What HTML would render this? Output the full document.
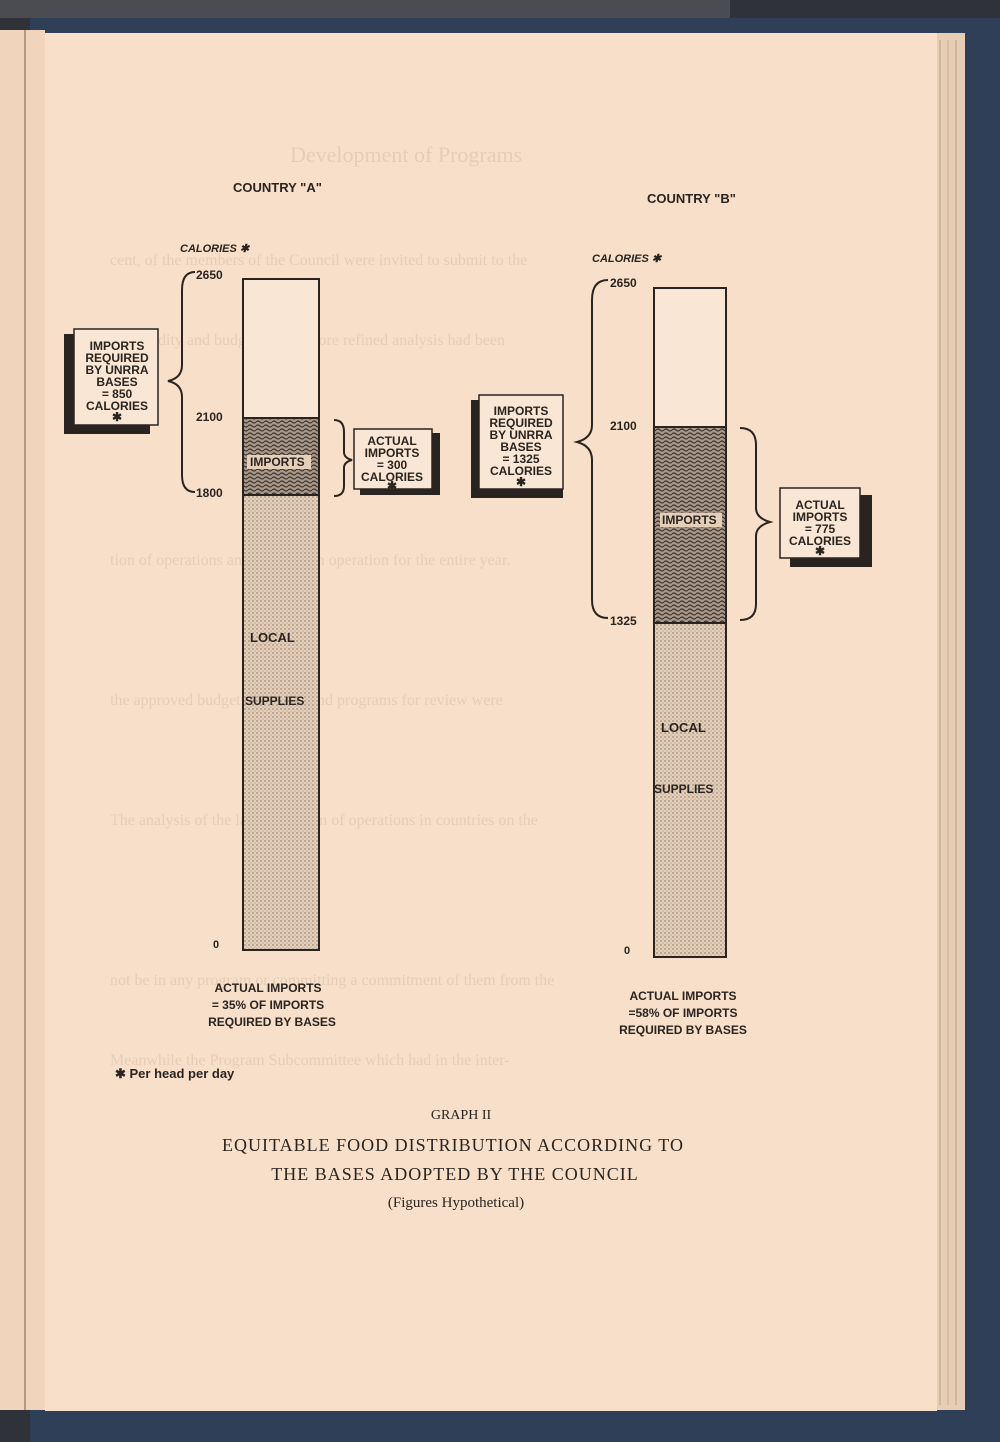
<!DOCTYPE html>
<html><head><meta charset="utf-8"><style>
html,body{margin:0;padding:0;width:1000px;height:1442px;overflow:hidden;background:#2d3036}
svg{display:block}
.s{font-family:"Liberation Sans",sans-serif;font-weight:bold;fill:#2a2420}
.r{font-family:"Liberation Serif",serif;fill:#2a2420}
.g{font-family:"Liberation Serif",serif;fill:#e7cdb7}
</style></head><body>
<svg width="1000" height="1442" viewBox="0 0 1000 1442" xmlns="http://www.w3.org/2000/svg">
<defs>
<pattern id="dots" width="4" height="4" patternUnits="userSpaceOnUse">
<rect width="4" height="4" fill="#e6cfb9"/><circle cx="1" cy="1" r="0.7" fill="#7a6a5e"/><circle cx="3" cy="3" r="0.5" fill="#8a7a6e"/>
</pattern>
<pattern id="worm" width="8" height="8" patternUnits="userSpaceOnUse">
<rect width="8" height="8" fill="#a8988a"/><path d="M0 2 Q2 0 4 2 T8 2 M0 6 Q2 4 4 6 T8 6" stroke="#3a302a" stroke-width="1.2" fill="none"/>
</pattern>
</defs>
<rect x="0" y="0" width="1000" height="1442" fill="#2f3238"/>
<rect x="0" y="0" width="730" height="18" fill="#4a4c52"/>
<rect x="30" y="18" width="970" height="1424" fill="#2f3f58"/>
<rect x="0" y="30" width="45" height="1380" fill="#f0d4bb"/>
<rect x="24" y="30" width="2" height="1380" fill="#b89a7c"/>
<rect x="935" y="33" width="30" height="1377" fill="#e6cdb4"/>
<line x1="940" y1="40" x2="940" y2="1405" stroke="#b8a08a"/>
<line x1="948" y1="40" x2="948" y2="1405" stroke="#c8b09a"/>
<line x1="956" y1="40" x2="956" y2="1405" stroke="#b8a08a"/>
<rect x="45" y="33" width="892" height="1378" fill="#f7dfc9"/>

<!-- show-through ghost text -->
<text x="290" y="162" class="g" font-size="22">Development of Programs</text>
<g class="g" font-size="16">
<text x="110" y="265">cent, of the members of the Council were invited to submit to the</text>
<text x="110" y="345">commodity and budget after a more refined analysis had been</text>
<text x="110" y="565">tion of operations and program in operation for the entire year.</text>
<text x="110" y="705">the approved budget proposals and programs for review were</text>
<text x="110" y="825">The analysis of the latest program of operations in countries on the</text>
<text x="110" y="985">not be in any program or committing a commitment of them from the</text>
<text x="110" y="1065">Meanwhile the Program Subcommittee which had in the inter-</text>
</g>

<text x="233" y="192" class="s" font-size="13">COUNTRY "A"</text>
<text x="647" y="203" class="s" font-size="13">COUNTRY "B"</text>
<text x="180" y="252" class="s" font-size="11" font-style="italic">CALORIES ✱</text>
<text x="592" y="262" class="s" font-size="11" font-style="italic">CALORIES ✱</text>

<rect x="243" y="279" width="76" height="139" fill="#f9e6d4" stroke="#2a2420" stroke-width="2"/>
<rect x="243" y="418" width="76" height="77" fill="url(#worm)" stroke="#2a2420" stroke-width="2"/>
<rect x="243" y="495" width="76" height="455" fill="url(#dots)" stroke="#2a2420" stroke-width="2"/>
<rect x="247" y="455" width="64" height="14" fill="#e6cfb9"/>
<text x="250" y="466" class="s" font-size="12">IMPORTS</text>
<text x="250" y="642" class="s" font-size="13">LOCAL</text>
<text x="245" y="705" class="s" font-size="12">SUPPLIES</text>
<text x="196" y="279" class="s" font-size="12">2650</text>
<text x="196" y="421" class="s" font-size="12">2100</text>
<text x="196" y="497" class="s" font-size="12">1800</text>
<text x="213" y="948" class="s" font-size="11">0</text>
<path d="M195 272 Q182 272 182 290 L182 365 Q182 378 168 381 Q182 384 182 397 L182 475 Q182 492 195 492" stroke="#2a2420" stroke-width="2" fill="none"/>
<path d="M334 420 Q344 420 344 432 L344 452 Q344 458 352 460 Q344 462 344 468 L344 486 Q344 496 334 496" stroke="#2a2420" stroke-width="2" fill="none"/>

<rect x="64" y="334" width="12" height="100" fill="#2a2420"/>
<rect x="64" y="424" width="86" height="10" fill="#2a2420"/>
<rect x="74" y="329" width="84" height="96" fill="#f9e6d4" stroke="#2a2420" stroke-width="1.5"/>
<g class="s" font-size="12" text-anchor="middle">
<text x="117" y="350">IMPORTS</text><text x="117" y="362">REQUIRED</text><text x="117" y="374">BY UNRRA</text><text x="117" y="386">BASES</text><text x="117" y="398">= 850</text><text x="117" y="410">CALORIES</text><text x="117" y="421">✱</text>
</g>
<rect x="360" y="433" width="80" height="62" fill="#2a2420"/>
<rect x="354" y="429" width="78" height="60" fill="#f9e6d4" stroke="#2a2420" stroke-width="1.5"/>
<g class="s" font-size="12" text-anchor="middle">
<text x="392" y="445">ACTUAL</text><text x="392" y="457">IMPORTS</text><text x="392" y="469">= 300</text><text x="392" y="481">CALORIES</text><text x="392" y="490">✱</text>
</g>

<rect x="654" y="288" width="72" height="139" fill="#f9e6d4" stroke="#2a2420" stroke-width="2"/>
<rect x="654" y="427" width="72" height="196" fill="url(#worm)" stroke="#2a2420" stroke-width="2"/>
<rect x="654" y="623" width="72" height="334" fill="url(#dots)" stroke="#2a2420" stroke-width="2"/>
<rect x="660" y="513" width="62" height="14" fill="#e6cfb9"/>
<text x="662" y="524" class="s" font-size="12">IMPORTS</text>
<text x="661" y="732" class="s" font-size="13">LOCAL</text>
<text x="654" y="793" class="s" font-size="12">SUPPLIES</text>
<text x="610" y="287" class="s" font-size="12">2650</text>
<text x="610" y="430" class="s" font-size="12">2100</text>
<text x="610" y="625" class="s" font-size="12">1325</text>
<text x="624" y="954" class="s" font-size="11">0</text>
<path d="M608 280 Q592 280 592 300 L592 425 Q592 438 577 442 Q592 446 592 460 L592 600 Q592 618 608 618" stroke="#2a2420" stroke-width="2" fill="none"/>
<path d="M740 428 Q756 428 756 445 L756 508 Q756 518 770 522 Q756 526 756 536 L756 604 Q756 620 740 620" stroke="#2a2420" stroke-width="2" fill="none"/>

<rect x="471" y="400" width="12" height="98" fill="#2a2420"/>
<rect x="471" y="488" width="92" height="10" fill="#2a2420"/>
<rect x="479" y="395" width="84" height="94" fill="#f9e6d4" stroke="#2a2420" stroke-width="1.5"/>
<g class="s" font-size="12" text-anchor="middle">
<text x="521" y="415">IMPORTS</text><text x="521" y="427">REQUIRED</text><text x="521" y="439">BY UNRRA</text><text x="521" y="451">BASES</text><text x="521" y="463">= 1325</text><text x="521" y="475">CALORIES</text><text x="521" y="486">✱</text>
</g>
<rect x="790" y="495" width="82" height="72" fill="#2a2420"/>
<rect x="780" y="488" width="80" height="70" fill="#f9e6d4" stroke="#2a2420" stroke-width="1.5"/>
<g class="s" font-size="12" text-anchor="middle">
<text x="820" y="509">ACTUAL</text><text x="820" y="521">IMPORTS</text><text x="820" y="533">= 775</text><text x="820" y="545">CALORIES</text><text x="820" y="555">✱</text>
</g>

<g class="s" font-size="12" text-anchor="middle">
<text x="268" y="992">ACTUAL IMPORTS</text><text x="268" y="1009">= 35% OF IMPORTS</text><text x="272" y="1026">REQUIRED BY BASES</text>
<text x="683" y="1000">ACTUAL IMPORTS</text><text x="683" y="1017">=58% OF IMPORTS</text><text x="683" y="1034">REQUIRED BY BASES</text>
</g>
<text x="115" y="1078" class="s" font-size="13">✱ Per head per day</text>

<text x="461" y="1119" class="r" font-size="14" text-anchor="middle">GRAPH II</text>
<text x="453" y="1151" class="r" font-size="18" text-anchor="middle" letter-spacing="1">EQUITABLE FOOD DISTRIBUTION ACCORDING TO</text>
<text x="455" y="1180" class="r" font-size="18" text-anchor="middle" letter-spacing="1">THE BASES ADOPTED BY THE COUNCIL</text>
<text x="456" y="1207" class="r" font-size="15" text-anchor="middle">(Figures Hypothetical)</text>
</svg>
</body></html>
